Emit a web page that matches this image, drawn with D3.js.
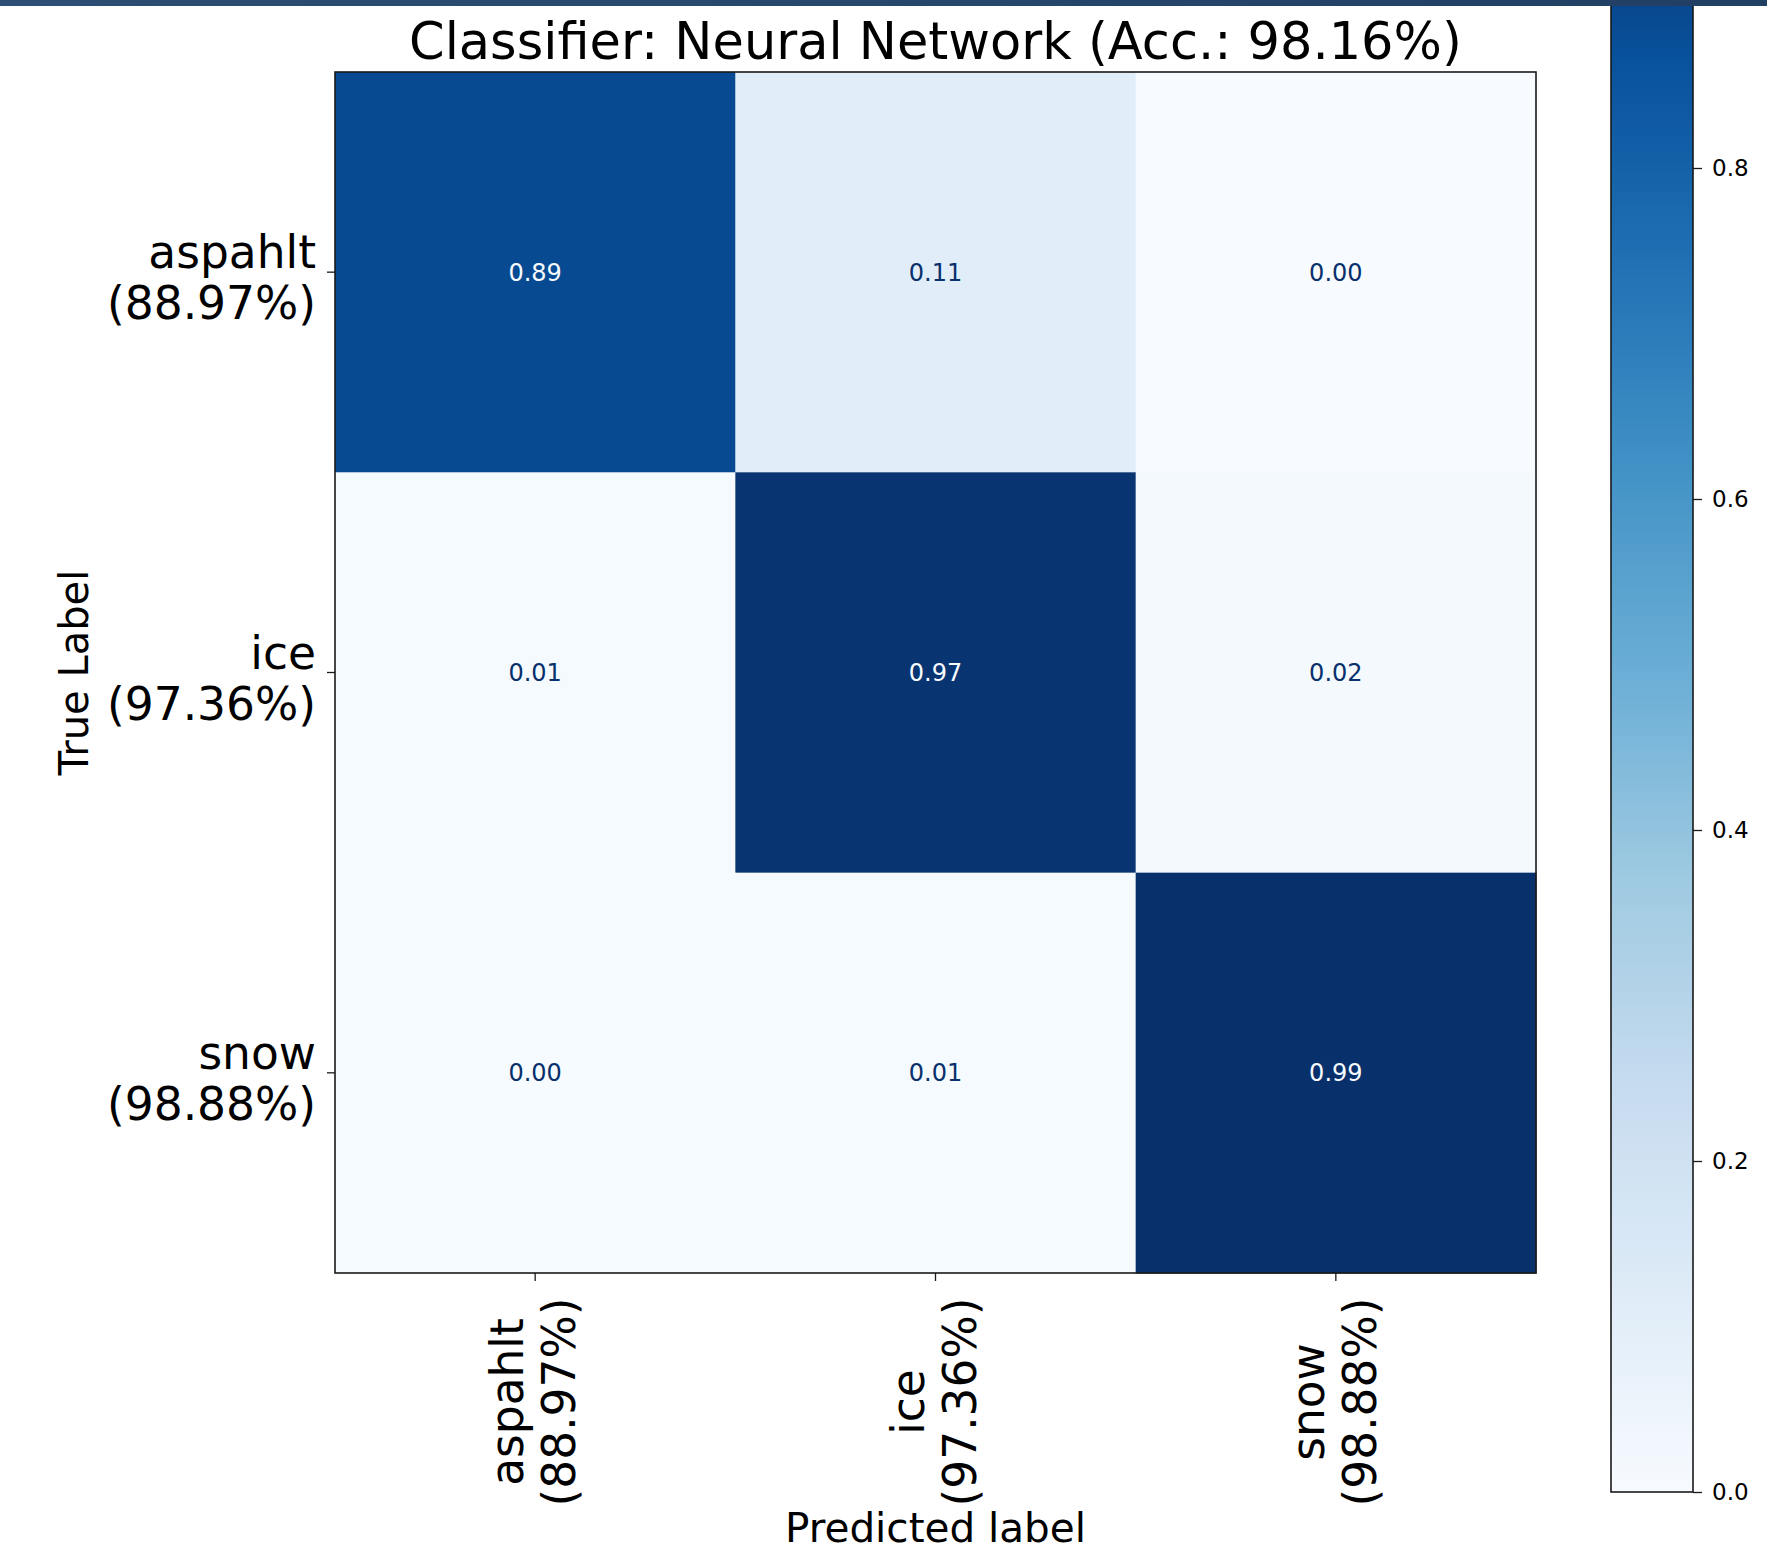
<!DOCTYPE html>
<html>
<head>
<meta charset="utf-8">
<script src="https://cdn.jsdelivr.net/npm/d3@7"></script>
<style>
  html, body { margin: 0; padding: 0; background: #ffffff; overflow: hidden; }
  svg { display: block; font-family: "DejaVu Sans", sans-serif; }
</style>
</head>
<body>
<svg id="chart" width="1767" height="1560"></svg>
<script>
// ---------- data ----------
const categories = ["aspahlt", "ice", "snow"];
const classAccuracy = ["88.97%", "97.36%", "98.88%"];
const rowAspahlt = [0.8897, 0.1103, 0.0000];
const rowIce = [0.0094, 0.9736, 0.0170];
const rowSnow = [0.0030, 0.0082, 0.9888];
const colorbarTicks = [0.0, 0.2, 0.4, 0.6, 0.8];
const bluesStops = ["#f7fbff", "#deebf7", "#c6dbef", "#9ecae1", "#6baed6", "#4292c6", "#2171b5", "#08519c", "#08306b"];
const titleText = "Classifier: Neural Network (Acc.: 98.16%)";
const xTitle = "Predicted label";
const yTitle = "True Label";

// ---------- build ----------
const matrix = [rowAspahlt, rowIce, rowSnow];
const cells = [];
matrix.forEach((row, i) => row.forEach((v, j) => cells.push({ t: categories[i], p: categories[j], v })));
const vmin = 0;
const vmax = d3.max(cells, d => d.v);

const svg = d3.select("#chart");
const plot = { left: 335, right: 1536, top: 72, bottom: 1273 };
const cbar = { left: 1611, right: 1693, bottom: 1492 };
const tickFont = 45.5;

const x = d3.scaleBand().domain(categories).range([plot.left, plot.right]).padding(0);
const y = d3.scaleBand().domain(categories).range([plot.top, plot.bottom]).padding(0);
const color = d3.scaleLinear()
  .domain(bluesStops.map((c, i) => vmin + (vmax - vmin) * i / (bluesStops.length - 1)))
  .range(bluesStops)
  .interpolate(d3.interpolateRgb);

const defs = svg.append("defs");
const bandGrad = defs.append("linearGradient").attr("id", "bandGrad").attr("x1", "0").attr("x2", "1").attr("y1", "0").attr("y2", "0");
bandGrad.append("stop").attr("offset", "0").attr("stop-color", "#2d4e74");
bandGrad.append("stop").attr("offset", "1").attr("stop-color", "#213f63");

// ---------- cells ----------
svg.append("g").selectAll("rect").data(cells).join("rect")
  .attr("x", d => x(d.p))
  .attr("y", d => y(d.t))
  .attr("width", x.bandwidth() + 0.5)
  .attr("height", y.bandwidth() + 0.5)
  .attr("fill", d => color(d.v));

const thresh = (vmax + vmin) / 2;
svg.append("g").selectAll("text").data(cells).join("text")
  .attr("x", d => x(d.p) + x.bandwidth() / 2)
  .attr("y", d => y(d.t) + y.bandwidth() / 2)
  .attr("dy", "0.36em")
  .attr("text-anchor", "middle")
  .attr("font-size", 24)
  .attr("fill", d => d.v > thresh ? bluesStops[0] : bluesStops[bluesStops.length - 1])
  .text(d => d3.format(".2f")(d.v));

// frame
svg.append("rect")
  .attr("x", plot.left).attr("y", plot.top)
  .attr("width", plot.right - plot.left).attr("height", plot.bottom - plot.top)
  .attr("fill", "none").attr("stroke", "#1a1a1a").attr("stroke-width", 1.6);

// ---------- axes ----------
const yAxis = svg.append("g").attr("transform", `translate(${plot.left},0)`)
  .call(d3.axisLeft(y).tickSize(8).tickFormat(""));
yAxis.select(".domain").remove();
yAxis.selectAll(".tick line").attr("stroke", "#1a1a1a").attr("stroke-width", 1.3);
categories.forEach((c, i) => {
  const t = svg.append("text")
    .attr("text-anchor", "end")
    .attr("font-size", tickFont)
    .attr("fill", "#000");
  t.append("tspan").attr("x", plot.left - 19).attr("y", y(c) + y.bandwidth() / 2 - 4).text(c);
  t.append("tspan").attr("x", plot.left - 19).attr("y", y(c) + y.bandwidth() / 2 + 47).text(`(${classAccuracy[i]})`);
});

const xAxis = svg.append("g").attr("transform", `translate(0,${plot.bottom})`)
  .call(d3.axisBottom(x).tickSize(8).tickFormat(""));
xAxis.select(".domain").remove();
xAxis.selectAll(".tick line").attr("stroke", "#1a1a1a").attr("stroke-width", 1.3);
categories.forEach((c, i) => {
  const cx = x(c) + x.bandwidth() / 2;
  const cy = 1402;
  const g = svg.append("g").attr("transform", `translate(${cx},${cy}) rotate(-90)`);
  const t = g.append("text")
    .attr("text-anchor", "middle")
    .attr("font-size", tickFont)
    .attr("fill", "#000");
  t.append("tspan").attr("x", 0).attr("y", -12).text(c);
  t.append("tspan").attr("x", 0).attr("y", 40).text(`(${classAccuracy[i]})`);
});

// axis titles
svg.append("text")
  .attr("x", (plot.left + plot.right) / 2).attr("y", 1542)
  .attr("text-anchor", "middle").attr("font-size", 40.5).attr("fill", "#000")
  .text(xTitle);
svg.append("text")
  .attr("transform", `translate(88,${(plot.top + plot.bottom) / 2}) rotate(-90)`)
  .attr("text-anchor", "middle").attr("font-size", 40).attr("fill", "#000")
  .text(yTitle);

// title
svg.append("text")
  .attr("x", (plot.left + plot.right) / 2).attr("y", 59)
  .attr("text-anchor", "middle").attr("font-size", 51).attr("fill", "#000")
  .text(titleText);

// ---------- colorbar ----------
const cy = d3.scaleLinear().domain([0, 1]).range([cbar.bottom, cbar.bottom - 1655]);
const cbGrad = defs.append("linearGradient").attr("id", "cbGrad")
  .attr("x1", "0").attr("x2", "0").attr("y1", "1").attr("y2", "0");
d3.range(0, 1.0001, 0.02).forEach(f => {
  cbGrad.append("stop").attr("offset", f).attr("stop-color", color(vmin + f * (vmax - vmin)));
});
svg.append("rect")
  .attr("x", cbar.left).attr("y", cy(vmax))
  .attr("width", cbar.right - cbar.left).attr("height", cy(vmin) - cy(vmax))
  .attr("fill", "url(#cbGrad)")
  .attr("stroke", "#1a1a1a").attr("stroke-width", 1.6);
const cAxis = svg.append("g").attr("transform", `translate(${cbar.right},0)`)
  .call(d3.axisRight(cy).tickValues(colorbarTicks).tickSize(9).tickPadding(10).tickFormat(d3.format(".1f")));
cAxis.select(".domain").remove();
cAxis.selectAll(".tick line").attr("stroke", "#1a1a1a").attr("stroke-width", 1.3);
cAxis.selectAll(".tick text").attr("font-size", 23).attr("font-family", "DejaVu Sans").attr("fill", "#000");

// top frame band
svg.append("rect").attr("x", 0).attr("y", 0).attr("width", 1767).attr("height", 6).attr("fill", "url(#bandGrad)");
</script>
</body>
</html>
